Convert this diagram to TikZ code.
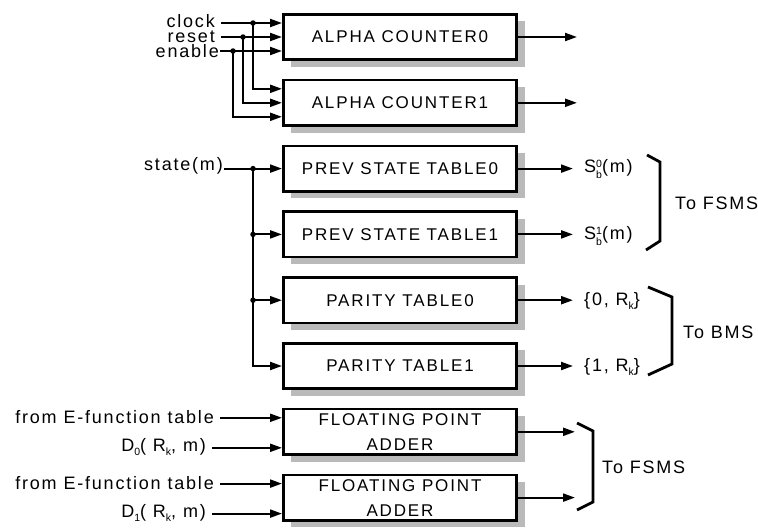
\documentclass[tikz,border=0pt]{standalone}
\usepackage{fontspec}
\setmainfont[LetterSpace=11]{Liberation Sans}
\usetikzlibrary{positioning,arrows.meta,calc,shadows}
\newcommand\smallidx[1]{{\fontsize{10.5}{10.5}\selectfont #1}}
\newcommand\Sbm[1]{S\raisebox{-5.5pt}{\shortstack[l]{\smallidx{#1}\\[0pt]\smallidx{b}}}(m)}
\newcommand\Rk{R\raisebox{-4pt}{\smallidx{k}}}
\newcommand\Dm[1]{D\raisebox{-4pt}{\smallidx{#1}}( \Rk, m)}
\tikzset{tbl/.style={draw,line width=2.6pt,fill=white,minimum
width=233.4pt,minimum height=45.4pt,inner sep=2pt,align=center,
font=\fontsize{17}{25}\selectfont,
drop shadow={shadow xshift=8pt,shadow yshift=-7pt,opacity=1,fill=black!27}},
lbl/.style={inner sep=2pt,font=\fontsize{18}{20}\selectfont\addfontfeatures{LetterSpace=10}},
sig/.style={line width=2.1pt,-{Triangle[length=12pt,width=8pt]}},
brk/.style={line width=2.8pt,line join=miter},
dot/.style={circle,fill,inner sep=0pt,minimum size=5.5pt}}

\begin{document}
\begin{tikzpicture}[x=1pt,y=-1pt]
\useasboundingbox (0,0) rectangle (758,530);

% tables and counters
\node[tbl] (ac0) at (400,37) {ALPHA COUNTER0};
\node[tbl] (ac1) [below=17.8pt of ac0] {ALPHA COUNTER1};
\node[tbl] (ps0) [below=17.8pt of ac1] {PREV STATE TABLE0};
\node[tbl] (ps1) [below=17.8pt of ps0] {PREV STATE TABLE1};
\node[tbl] (pt0) [below=17.8pt of ps1] {PARITY TABLE0};
\node[tbl] (pt1) [below=17.8pt of pt0] {PARITY TABLE1};
\node[tbl] (fp0) [below=17.8pt of pt1] {FLOATING POINT\\ADDER};
\node[tbl] (fp1) [below=17.8pt of fp0] {FLOATING POINT\\ADDER};

% counter inputs
\node[lbl,anchor=base east,inner sep=0pt] (clk) at (215,27.5) {clock};
\node[lbl,anchor=base east,inner sep=0pt] (rst) at (215,42) {reset};
\node[lbl,anchor=base east,inner sep=0pt] (en) at (219,57) {enable};
\coordinate (jclk) at ($(ac0.west)+(-29,-14)$);
\coordinate (jrst) at ($(ac0.west)+(-39,0)$);
\coordinate (jen) at ($(ac0.west)+(-49,14)$);
\draw[sig] ([xshift=6pt]clk.east |- jclk) -- (jclk -| ac0.west);
\draw[sig] ([xshift=6pt]rst.east |- jrst) -- (jrst -| ac0.west);
\draw[sig] ([xshift=1pt]en.east |- jen) -- (jen -| ac0.west);
\draw[sig] (jclk) |- ($(ac1.west)+(0,-14)$);
\draw[sig] (jrst) |- (ac1.west);
\draw[sig] (jen) |- ($(ac1.west)+(0,14)$);
\node[dot] (d0) at (jclk) {};
\node[dot] (d1) at (jrst) {};
\node[dot] (d2) at (jen) {};

% counter outputs
\coordinate (ao0) at ($(ac0.east)+(59,0)$);
\coordinate (ao1) at ($(ac1.east)+(59,0)$);
\draw[sig] (ac0.east) -- (ao0);
\draw[sig] (ac1.east) -- (ao1);

% state fan-out
\node[lbl,anchor=east,inner sep=1pt] (st) at (224,166) {state(m)};
\coordinate (jst) at ($(ps0.west)+(-29,0)$);
\draw[sig] (st.east |- ps0.west) -- (ps0.west);
\draw[sig] (jst) |- (pt1.west);
\draw[sig] (jst |- ps1.west) -- (ps1.west);
\draw[sig] (jst |- pt0.west) -- (pt0.west);
\node[dot] (d3) at (jst) {};
\node[dot] (d4) at (jst |- ps1.west) {};
\node[dot] (d5) at (jst |- pt0.west) {};

% table outputs
\node[lbl,anchor=west] (s0) at (582,169) {\Sbm{0}};
\node[lbl,anchor=west] (s1) at (582,236) {\Sbm{1}};
\node[lbl,anchor=west] (r0) at (582,301) {\{0, \Rk\}};
\node[lbl,anchor=west] (r1) at (582,367) {\{1, \Rk\}};
\draw[sig,shorten >=9pt] (ps0.east) -- (ps0.east -| s0.west);
\draw[sig,shorten >=9pt] (ps1.east) -- (ps1.east -| s1.west);
\draw[sig,shorten >=9pt] (pt0.east) -- (pt0.east -| r0.west);
\draw[sig,shorten >=9pt] (pt1.east) -- (pt1.east -| r1.west);

% adder inputs
\node[lbl,anchor=east] (e0) at (216,417) {from E-function table};
\node[lbl,anchor=east] (dd0) at (208,447) {\Dm{0}};
\node[lbl,anchor=east] (e1) at (216,483) {from E-function table};
\node[lbl,anchor=east] (dd1) at (208,513) {\Dm{1}};
\draw[sig] ([xshift=4pt]e0.east |- fp0.west) ++(0,-14) -- ($(fp0.west)+(0,-14)$);
\draw[sig] ([xshift=4pt]dd0.east |- fp0.west) ++(0,16) -- ($(fp0.west)+(0,16)$);
\draw[sig] ([xshift=4pt]e1.east |- fp1.west) ++(0,-14) -- ($(fp1.west)+(0,-14)$);
\draw[sig] ([xshift=4pt]dd1.east |- fp1.west) ++(0,16) -- ($(fp1.west)+(0,16)$);

% adder outputs
\coordinate (fo0) at ($(fp0.east)+(57,0)$);
\coordinate (fo1) at ($(fp1.east)+(57,0)$);
\draw[sig] (fp0.east) -- (fo0);
\draw[sig] (fp1.east) -- (fo1);

% brackets
\draw[brk] (647,155) -- (660,162) -- (660,241) -- (646,250);
\node[lbl,anchor=west] (bf0) at (673,203) {To FSMS};
\draw[brk] (648,287) -- (672,297) -- (672,364) -- (648,375);
\node[lbl,anchor=west] (bb) at (681,332) {To BMS};
\draw[brk] (577,423) -- (593,431) -- (593,502) -- (577,510);
\node[lbl,anchor=west] (bf1) at (600,467) {To FSMS};
\end{tikzpicture}
\end{document}
